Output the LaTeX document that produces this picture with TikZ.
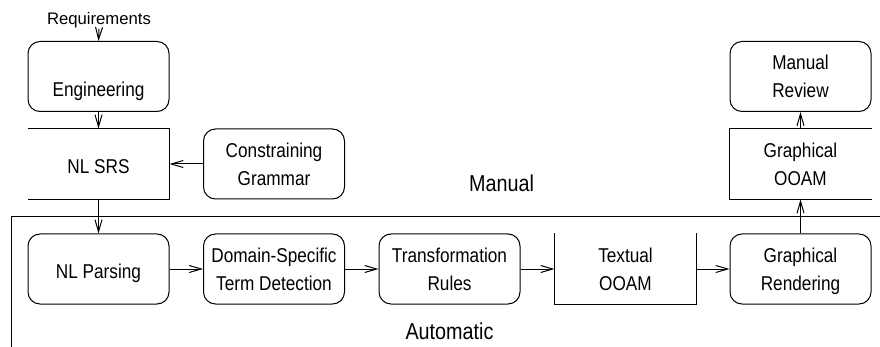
\documentclass[tikz,border=0pt]{standalone}
\usepackage{fontspec}
\setmainfont{Liberation Sans}[FakeStretch=0.86]
\newfontfamily\reqfont{Liberation Sans}
\usetikzlibrary{arrows.meta}
\begin{document}
\begin{tikzpicture}[x=1pt,y=-1pt,
  line width=1pt,
  boxtext/.style={font=\fontsize{20}{28}\selectfont, align=center, inner sep=0pt},
  rbox/.style={draw, rounded corners=12pt, minimum width=141pt, minimum height=70pt, boxtext},
  sbox/.style={minimum width=141pt, minimum height=70pt, boxtext},
  oneline/.style={text height=19pt, text depth=0pt},
  flow/.style={-{Straight Barb[length=12pt,width=7pt]}},
  lbl/.style={font=\fontsize{23}{28}\selectfont, inner sep=0pt, anchor=base}]
\useasboundingbox (0,0) rectangle (880,347);
% frame
\coordinate (fl) at (11,347);
\coordinate (fc) at (11,216.5);
\coordinate (fr) at (880,216.5);
\draw (fl) -- (fc) -- (fr);
% labels
\node[lbl] (manual) at (501.5,192) {Manual};
\node[lbl] (auto) at (449.5,339) {Automatic};
% top part
\node[font=\reqfont\fontsize{16.7}{20}\selectfont, inner sep=0pt, anchor=base] (req) at (99,25) {Requirements};
\node[rbox, text height=41pt, text depth=0pt] (eng) at (98.5,76.5) {Engineering};
\node[sbox, oneline] (srs) at (98.5,164) {NL SRS};
\node[rbox] (cg) at (274,164) {Constraining\\Grammar};
\node[rbox] (mr) at (800.5,76.5) {Manual\\Review};
\node[sbox] (go) at (800.5,164) {Graphical\\OOAM};
% bottom row
\node[rbox, oneline] (nlp) at (98.5,269) {NL Parsing};
\node[rbox] (ds) at (274,269) {Domain-Specific\\Term Detection};
\node[rbox] (tr) at (449.5,269) {Transformation\\Rules};
\node[sbox] (to) at (625.5,269) {Textual\\OOAM};
\node[rbox] (gr) at (800.5,269) {Graphical\\\smash{Rendering}};
% data store outlines
\draw (srs.north west) -- (srs.north east) -- (srs.south east) -- (srs.south west);
\draw (to.north west) -- (to.south west) -- (to.south east) -- (to.north east);
\draw (go.north east) -- (go.north west) -- (go.south west) -- (go.south east);
% connectors
\draw[flow] (req.south) -- (eng.north);
\draw[flow] (eng.south) -- (srs.north);
\draw[flow] (cg.west) -- (srs.east);
\draw[flow] (srs.south) -- (nlp.north);
\draw[flow] (nlp.east) -- (ds.west);
\draw[flow] (ds.east) -- (tr.west);
\draw[flow] (tr.east) -- (to.west);
\draw[flow] (to.east) -- (gr.west);
\draw[flow] (gr.north) -- (go.south);
\draw[flow] (go.north) -- (mr.south);
\end{tikzpicture}
\end{document}
